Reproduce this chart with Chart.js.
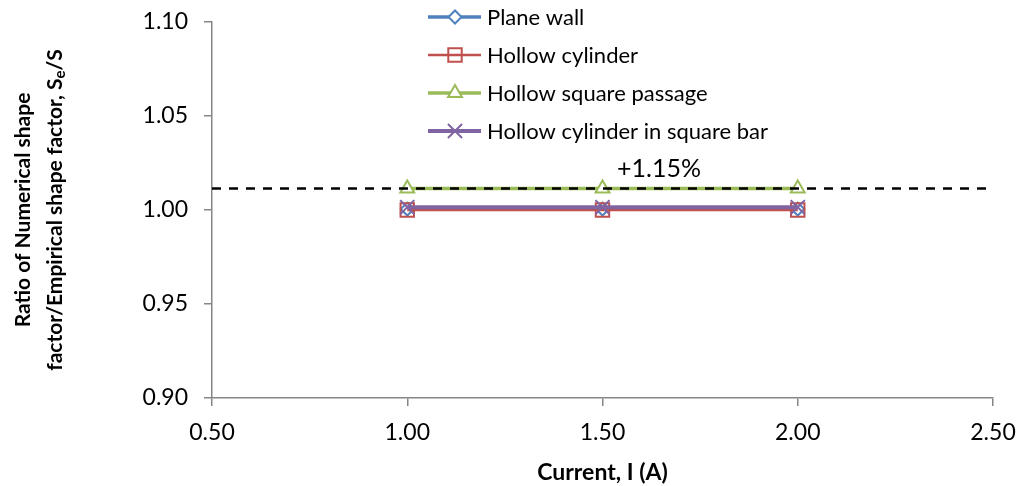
<!DOCTYPE html>
<html>
<head>
<meta charset="utf-8">
<script src="https://cdn.jsdelivr.net/npm/chart.js@4/dist/chart.umd.min.js"></script>
<style>
  html, body { margin: 0; padding: 0; background: #ffffff; }
  #wrap { width: 1021px; height: 486px; position: relative; }
</style>
</head>
<body>
<div id="wrap"><canvas id="chart"></canvas></div>
<script>
// Current (A) at which the shape factors were compared
const currents = [1.0, 1.5, 2.0];

// Ratio of numerical to empirical shape factor, Se/S
const planeWall = [1.0005, 1.0005, 1.0005];
const hollowCylinder = [1.0, 1.0, 1.0];
const hollowSquarePassage = [1.0115, 1.0115, 1.0115];
const cylinderInSquareBar = [1.0015, 1.0015, 1.0015];

// Largest deviation, drawn as a dashed reference line across the axis
const maxDeviation = 1.0115;
const refX = [0.5, 2.5];

const seriesNames = ['Plane wall', 'Hollow cylinder', 'Hollow square passage', 'Hollow cylinder in square bar'];

const xTicks = [0.5, 1.0, 1.5, 2.0, 2.5];
const yTicks = [0.90, 0.95, 1.00, 1.05, 1.10];

const FONT = 'Lato, "Open Sans", sans-serif';
const AXIS_GREY = '#868686';

function pts(xs, ys) { return xs.map((x, i) => ({ x: x, y: ys[i] })); }

const styles = [
  { color: '#4F81BD', pointStyle: 'rectRot', radius: 6.5, lineWidth: 3.5, fill: '#ffffff' },
  { color: '#C0504D', pointStyle: 'rect', radius: 9.5, lineWidth: 2.5, fill: 'rgba(0,0,0,0)' },
  { color: '#9BBB59', pointStyle: 'triangle', radius: 8, lineWidth: 3.5, fill: '#ffffff' },
  { color: '#8064A2', pointStyle: 'crossRot', radius: 10, lineWidth: 4, fill: '#ffffff' }
];
const seriesValues = [planeWall, hollowCylinder, hollowSquarePassage, cylinderInSquareBar];
const drawOrder = [4, 3, 2, 1];

const datasets = seriesNames.map((name, i) => ({
  label: name,
  data: pts(currents, seriesValues[i]),
  showLine: true,
  borderColor: styles[i].color,
  borderWidth: styles[i].lineWidth,
  backgroundColor: styles[i].fill,
  pointStyle: styles[i].pointStyle,
  pointRadius: styles[i].radius,
  pointBorderWidth: 2,
  pointBorderColor: styles[i].color,
  pointBackgroundColor: styles[i].fill,
  pointHoverRadius: styles[i].radius,
  order: drawOrder[i],
  inLegend: true
}));

datasets.push({
  label: 'reference',
  data: pts(refX, [maxDeviation, maxDeviation]),
  showLine: true,
  borderColor: '#000000',
  borderWidth: 2.5,
  borderDash: [9, 8],
  pointRadius: 0,
  pointHoverRadius: 0,
  order: 0,
  inLegend: false
});

// Legend drawn inside the plot, plus the deviation label and the y-axis title
const decorations = {
  id: 'decorations',
  afterDraw(chart) {
    const ctx = chart.ctx;
    const ys = chart.scales.y;
    ctx.save();

    // legend
    const lx0 = 428, lx1 = 481, lmx = 455, tx = 487;
    let row = 0;
    chart.data.datasets.forEach((ds) => {
      if (!ds.inLegend) return;
      const y = 17 + row * 38;
      ctx.strokeStyle = ds.borderColor;
      ctx.lineWidth = ds.borderWidth;
      ctx.setLineDash([]);
      ctx.beginPath();
      ctx.moveTo(lx0, y);
      ctx.lineTo(lx1, y);
      ctx.stroke();
      ctx.lineWidth = ds.pointBorderWidth;
      ctx.strokeStyle = ds.pointBorderColor;
      ctx.fillStyle = ds.pointBackgroundColor;
      Chart.helpers.drawPoint(ctx, { pointStyle: ds.pointStyle, radius: ds.pointRadius, rotation: 0, borderWidth: ds.pointBorderWidth }, lmx, y);
      ctx.fillStyle = '#000000';
      ctx.font = '22px ' + FONT;
      ctx.textAlign = 'left';
      ctx.textBaseline = 'middle';
      ctx.fillText(ds.label, tx, y + 1);
      row++;
    });

    // deviation label above the reference line
    const pct = '+' + ((maxDeviation - 1) * 100).toFixed(2) + '%';
    ctx.font = '25px ' + FONT;
    ctx.textAlign = 'center';
    ctx.textBaseline = 'middle';
    ctx.fillStyle = '#000000';
    ctx.fillText(pct, 659, ys.getPixelForValue(maxDeviation) - 19);

    // y-axis title (two lines, subscript e)
    const cy = (chart.chartArea.top + chart.chartArea.bottom) / 2;
    ctx.translate(0, cy);
    ctx.rotate(-Math.PI / 2);
    ctx.textBaseline = 'middle';
    ctx.textAlign = 'center';
    const bold = 'bold 21px ' + FONT;
    const sub = 'bold 15px ' + FONT;
    ctx.font = bold;
    ctx.fillText('Ratio of Numerical shape', 0, 23);
    const a = 'factor/Empirical shape factor, S', b = 'e', c = '/S';
    ctx.font = bold; const wa = ctx.measureText(a).width, wc = ctx.measureText(c).width;
    ctx.font = sub; const wb = ctx.measureText(b).width;
    let x = -(wa + wb + wc) / 2;
    ctx.textAlign = 'left';
    ctx.font = bold; ctx.fillText(a, x, 55); x += wa;
    ctx.font = sub; ctx.fillText(b, x, 60); x += wb;
    ctx.font = bold; ctx.fillText(c, x, 55);
    ctx.restore();
  }
};

new Chart(document.getElementById('chart'), {
  type: 'scatter',
  data: { datasets: datasets },
  options: {
    responsive: true,
    maintainAspectRatio: false,
    animation: false,
    events: [],
    layout: { padding: { top: 22, right: 28, left: 0, bottom: 0 } },
    plugins: {
      legend: { display: false },
      tooltip: { enabled: false }
    },
    scales: {
      x: {
        type: 'linear',
        min: xTicks[0],
        max: xTicks[xTicks.length - 1],
        afterBuildTicks(scale) { scale.ticks = xTicks.map(v => ({ value: v })); },
        afterFit(scale) { scale.height = 88; scale.paddingLeft = 0; scale.paddingRight = 0; },
        ticks: {
          callback: (v) => Number(v).toFixed(2),
          color: '#000000',
          font: { family: FONT, size: 23 },
          padding: 13,
          maxRotation: 0
        },
        grid: { drawOnChartArea: false, drawTicks: true, tickLength: 8, color: AXIS_GREY, lineWidth: 1.5 },
        border: { color: AXIS_GREY, width: 1.5 },
        title: {
          display: true,
          text: 'Current, I (A)',
          color: '#000000',
          font: { family: FONT, size: 23, weight: 'bold' },
          padding: { top: 2, bottom: 0 }
        }
      },
      y: {
        type: 'linear',
        min: yTicks[0],
        max: yTicks[yTicks.length - 1],
        afterBuildTicks(scale) { scale.ticks = yTicks.map(v => ({ value: v })); },
        afterFit(scale) { scale.width = 212; scale.paddingTop = 0; scale.paddingBottom = 0; },
        ticks: {
          callback: (v) => Number(v).toFixed(2),
          color: '#000000',
          font: { family: FONT, size: 23 },
          padding: 16
        },
        grid: { drawOnChartArea: false, drawTicks: true, tickLength: 8, color: AXIS_GREY, lineWidth: 1.5 },
        border: { color: AXIS_GREY, width: 1.5 }
      }
    }
  },
  plugins: [decorations]
});
</script>
</body>
</html>
